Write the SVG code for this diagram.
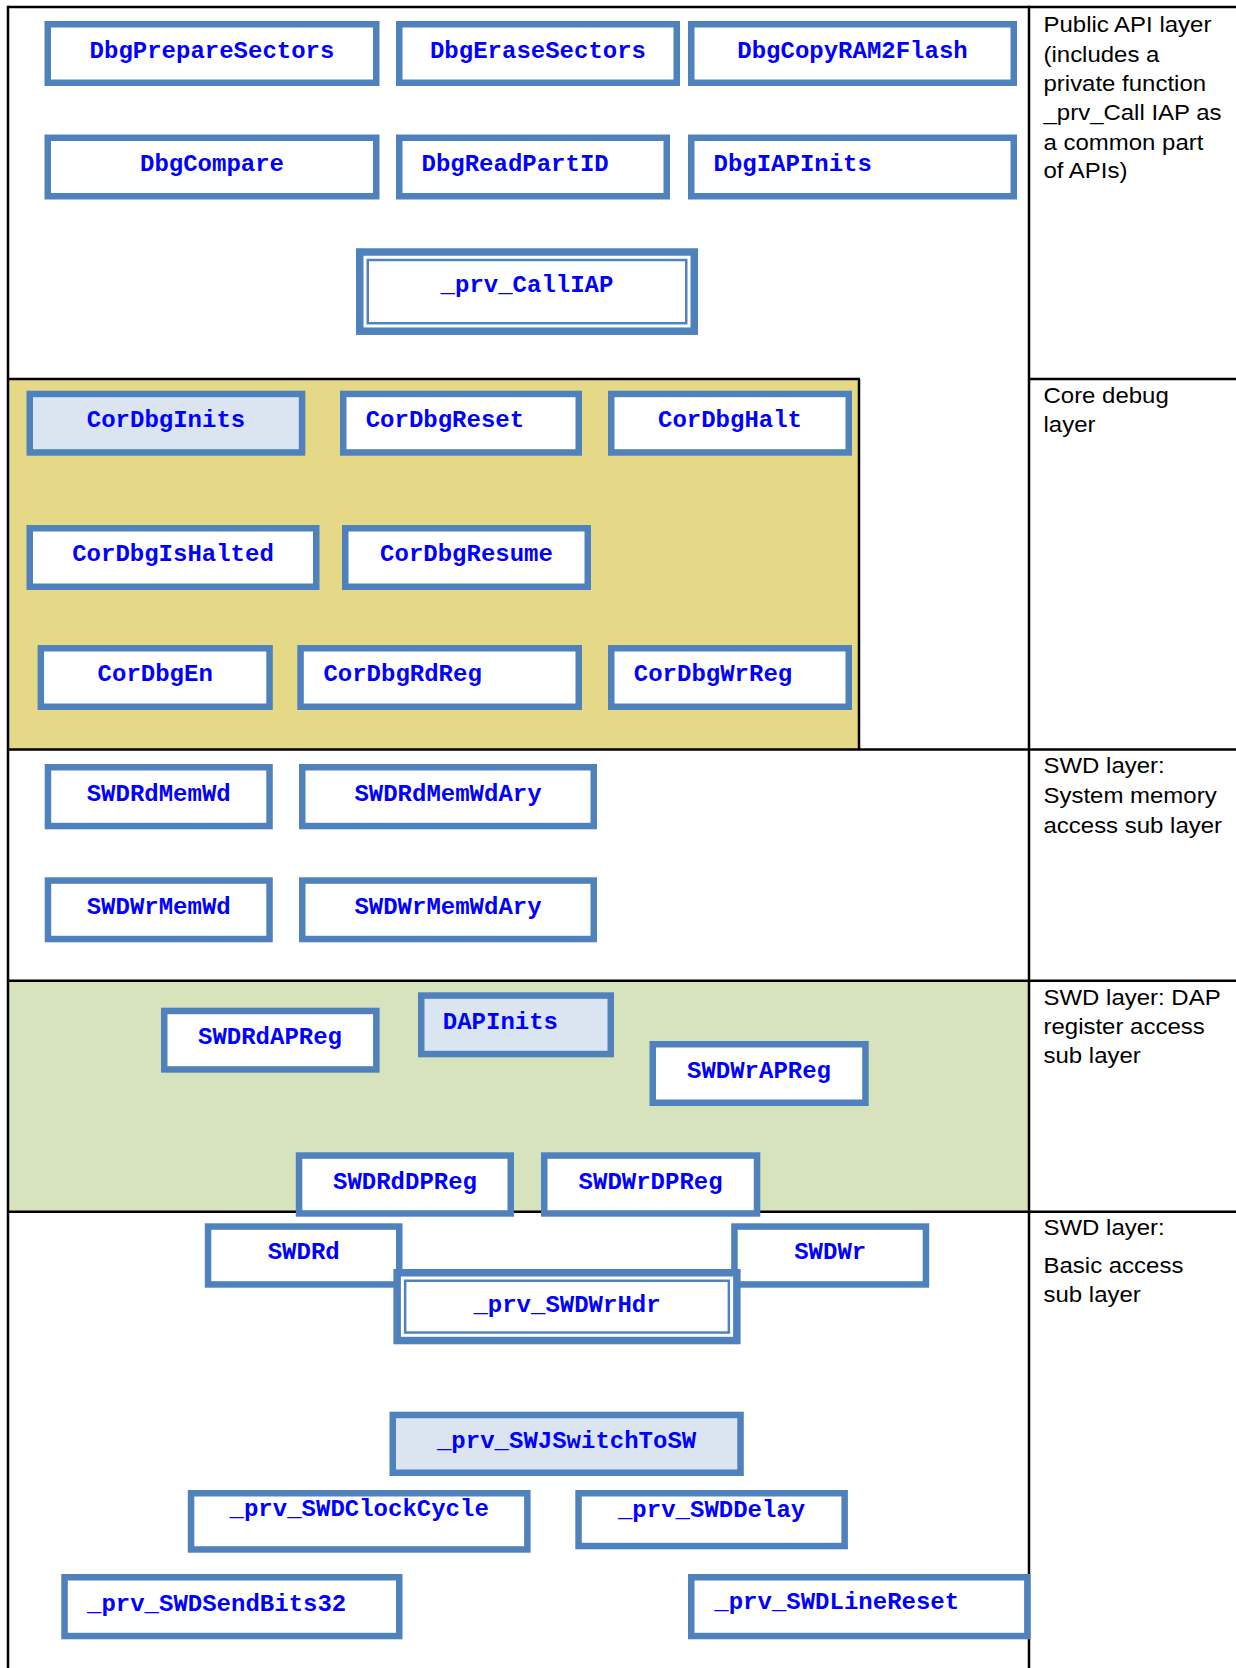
<svg xmlns="http://www.w3.org/2000/svg" width="1236" height="1668" viewBox="0 0 1236 1668">
  <style>
    .grid { stroke: #000; stroke-width: 2.5; fill: none; }
    .box { fill: #FFFFFF; stroke: #4F81BD; stroke-width: 6.5; }
    .hl { fill: #DBE5F1; }
    .dbl { fill: #FFFFFF; stroke: #4F81BD; stroke-width: 7.5; }
    .thin { fill: none; stroke: #4F81BD; stroke-width: 2.5; }
    .lbl { font-family: "Liberation Mono", "Courier New", monospace; font-weight: bold; font-size: 24px; fill: #0000FF; }
    .c { text-anchor: middle; }
    .note { font-family: "Liberation Sans", Arial, sans-serif; font-size: 22px; fill: #000; }
  </style>

  <rect width="1236" height="1668" fill="#FFFFFF"/>

  <!-- layer bands and table rules -->
  <g id="table">
    <rect x="8" y="379" width="851" height="370.5" fill="#E5D887"/>
    <rect x="8" y="980.7" width="1021" height="231" fill="#D7E3BD"/>
    <line class="grid" x1="8" y1="7" x2="1236" y2="7"/>
    <line class="grid" x1="8" y1="5.8" x2="8" y2="1668"/>
    <line class="grid" x1="1029" y1="5.8" x2="1029" y2="1668"/>
    <line class="grid" x1="8" y1="379" x2="860" y2="379"/>
    <line class="grid" x1="1029" y1="379" x2="1236" y2="379"/>
    <line class="grid" x1="859" y1="379" x2="859" y2="749.5"/>
    <line class="grid" x1="8" y1="749.5" x2="1236" y2="749.5"/>
    <line class="grid" x1="8" y1="980.7" x2="1236" y2="980.7"/>
    <line class="grid" x1="8" y1="1211.7" x2="1236" y2="1211.7"/>
  </g>

  <!-- layer descriptions -->
  <g id="layer-notes" class="note">
    <text transform="translate(1043.5 0) scale(1.09 1)">
      <tspan x="0" y="31.7">Public API layer</tspan>
      <tspan x="0" y="61.7">(includes a</tspan>
      <tspan x="0" y="90.7">private function</tspan>
      <tspan x="0" y="120">_prv_Call IAP as</tspan>
      <tspan x="0" y="150">a common part</tspan>
      <tspan x="0" y="178.3">of APIs)</tspan>
    </text>
    <text transform="translate(1043.5 0) scale(1.09 1)">
      <tspan x="0" y="403.5">Core debug</tspan>
      <tspan x="0" y="432">layer</tspan>
    </text>
    <text transform="translate(1043.5 0) scale(1.09 1)">
      <tspan x="0" y="773.3">SWD layer:</tspan>
      <tspan x="0" y="802.7">System memory</tspan>
      <tspan x="0" y="832.7">access sub layer</tspan>
    </text>
    <text transform="translate(1043.5 0) scale(1.09 1)">
      <tspan x="0" y="1005">SWD layer: DAP</tspan>
      <tspan x="0" y="1034">register access</tspan>
      <tspan x="0" y="1063.3">sub layer</tspan>
    </text>
    <text transform="translate(1043.5 0) scale(1.09 1)">
      <tspan x="0" y="1235">SWD layer:</tspan>
      <tspan x="0" y="1272.7">Basic access</tspan>
      <tspan x="0" y="1301.7">sub layer</tspan>
    </text>
  </g>

  <!-- connectors (none drawn between functions) -->
  <g id="connectors"/>

  <!-- Public API layer -->
  <g id="DbgPrepareSectors">
    <rect class="box" x="47.75" y="24.25" width="328.5" height="58.5"/>
    <text class="lbl c" x="212" y="58">DbgPrepareSectors</text>
  </g>
  <g id="DbgEraseSectors">
    <rect class="box" x="399.25" y="24.25" width="277.5" height="58.5"/>
    <text class="lbl c" x="538" y="58">DbgEraseSectors</text>
  </g>
  <g id="DbgCopyRAM2Flash">
    <rect class="box" x="691.25" y="24.25" width="322.5" height="58.5"/>
    <text class="lbl c" x="852.5" y="58">DbgCopyRAM2Flash</text>
  </g>
  <g id="DbgCompare">
    <rect class="box" x="47.75" y="137.75" width="328.5" height="58.5"/>
    <text class="lbl c" x="212" y="171">DbgCompare</text>
  </g>
  <g id="DbgReadPartID">
    <rect class="box" x="399.25" y="137.75" width="267.5" height="58.5"/>
    <text class="lbl" x="421.5" y="171">DbgReadPartID</text>
  </g>
  <g id="DbgIAPInits">
    <rect class="box" x="691.25" y="137.75" width="322.5" height="58.5"/>
    <text class="lbl" x="713.5" y="171">DbgIAPInits</text>
  </g>
  <g id="prv_CallIAP">
    <rect class="dbl" x="359.75" y="252" width="334.5" height="79.2"/>
    <rect class="thin" x="367.75" y="260" width="318.5" height="63.2"/>
    <text class="lbl c" x="527" y="291.7">_prv_CallIAP</text>
  </g>

  <!-- Core debug layer -->
  <g id="CorDbgInits">
    <rect class="box hl" x="29.75" y="393.95" width="272.3" height="58.5"/>
    <text class="lbl c" x="166" y="427.3">CorDbgInits</text>
  </g>
  <g id="CorDbgReset">
    <rect class="box" x="343.25" y="393.95" width="235.5" height="58.5"/>
    <text class="lbl" x="365.7" y="427.3">CorDbgReset</text>
  </g>
  <g id="CorDbgHalt">
    <rect class="box" x="611.25" y="393.95" width="237.5" height="58.5"/>
    <text class="lbl c" x="730" y="427.3">CorDbgHalt</text>
  </g>
  <g id="CorDbgIsHalted">
    <rect class="box" x="29.75" y="528.25" width="286.5" height="58.5"/>
    <text class="lbl c" x="173" y="561">CorDbgIsHalted</text>
  </g>
  <g id="CorDbgResume">
    <rect class="box" x="345.25" y="528.25" width="242.5" height="58.5"/>
    <text class="lbl c" x="466.5" y="561">CorDbgResume</text>
  </g>
  <g id="CorDbgEn">
    <rect class="box" x="40.85" y="648.25" width="228.7" height="58.5"/>
    <text class="lbl c" x="155.2" y="680.7">CorDbgEn</text>
  </g>
  <g id="CorDbgRdReg">
    <rect class="box" x="300.55" y="648.25" width="278.2" height="58.5"/>
    <text class="lbl" x="323.4" y="680.7">CorDbgRdReg</text>
  </g>
  <g id="CorDbgWrReg">
    <rect class="box" x="611.25" y="648.25" width="237.5" height="58.5"/>
    <text class="lbl" x="633.8" y="680.7">CorDbgWrReg</text>
  </g>

  <!-- SWD layer: system memory access -->
  <g id="SWDRdMemWd">
    <rect class="box" x="47.95" y="767.25" width="221.6" height="58.8"/>
    <text class="lbl c" x="158.7" y="801">SWDRdMemWd</text>
  </g>
  <g id="SWDRdMemWdAry">
    <rect class="box" x="302.25" y="767.25" width="291.5" height="58.8"/>
    <text class="lbl c" x="448" y="801">SWDRdMemWdAry</text>
  </g>
  <g id="SWDWrMemWd">
    <rect class="box" x="47.95" y="880.55" width="221.6" height="58.5"/>
    <text class="lbl c" x="158.7" y="914">SWDWrMemWd</text>
  </g>
  <g id="SWDWrMemWdAry">
    <rect class="box" x="302.25" y="880.55" width="291.5" height="58.5"/>
    <text class="lbl c" x="448" y="914">SWDWrMemWdAry</text>
  </g>

  <!-- SWD layer: DAP register access -->
  <g id="SWDRdAPReg">
    <rect class="box" x="164.25" y="1010.95" width="212.1" height="58.5"/>
    <text class="lbl c" x="270" y="1044">SWDRdAPReg</text>
  </g>
  <g id="DAPInits">
    <rect class="box hl" x="421.25" y="995.55" width="189.5" height="58.5"/>
    <text class="lbl" x="442.8" y="1029">DAPInits</text>
  </g>
  <g id="SWDWrAPReg">
    <rect class="box" x="652.75" y="1044.25" width="212.7" height="58.5"/>
    <text class="lbl c" x="759" y="1077.7">SWDWrAPReg</text>
  </g>
  <g id="SWDRdDPReg">
    <rect class="box" x="299.05" y="1155.55" width="211.7" height="57.9"/>
    <text class="lbl c" x="405" y="1189">SWDRdDPReg</text>
  </g>
  <g id="SWDWrDPReg">
    <rect class="box" x="544.25" y="1155.55" width="212.8" height="57.9"/>
    <text class="lbl c" x="650.6" y="1189">SWDWrDPReg</text>
  </g>

  <!-- SWD layer: basic access -->
  <g id="SWDRd">
    <rect class="box" x="208.05" y="1226.55" width="191.2" height="57.9"/>
    <text class="lbl c" x="303.7" y="1259">SWDRd</text>
  </g>
  <g id="SWDWr">
    <rect class="box" x="734.45" y="1226.55" width="191.5" height="57.9"/>
    <text class="lbl c" x="830.2" y="1259">SWDWr</text>
  </g>
  <g id="prv_SWDWrHdr">
    <rect class="dbl" x="397.15" y="1272.75" width="339.7" height="67.8"/>
    <rect class="thin" x="405.15" y="1280.75" width="323.7" height="51.8"/>
    <text class="lbl c" x="567" y="1311.7">_prv_SWDWrHdr</text>
  </g>
  <g id="prv_SWJSwitchToSW">
    <rect class="box hl" x="392.75" y="1414.95" width="347.8" height="57.8"/>
    <text class="lbl c" x="566.6" y="1448.3">_prv_SWJSwitchToSW</text>
  </g>
  <g id="prv_SWDClockCycle">
    <rect class="box" x="191.05" y="1493.25" width="336.3" height="56.2"/>
    <text class="lbl c" x="359.2" y="1516">_prv_SWDClockCycle</text>
  </g>
  <g id="prv_SWDDelay">
    <rect class="box" x="578.55" y="1493.25" width="266.1" height="52.8"/>
    <text class="lbl c" x="711.6" y="1517.3">_prv_SWDDelay</text>
  </g>
  <g id="prv_SWDSendBits32">
    <rect class="box" x="64.55" y="1577.25" width="334.7" height="58.8"/>
    <text class="lbl" x="87" y="1610.7">_prv_SWDSendBits32</text>
  </g>
  <g id="prv_SWDLineReset">
    <rect class="box" x="691.25" y="1577.25" width="336.1" height="58.8"/>
    <text class="lbl" x="714.3" y="1609.3">_prv_SWDLineReset</text>
  </g>
</svg>
